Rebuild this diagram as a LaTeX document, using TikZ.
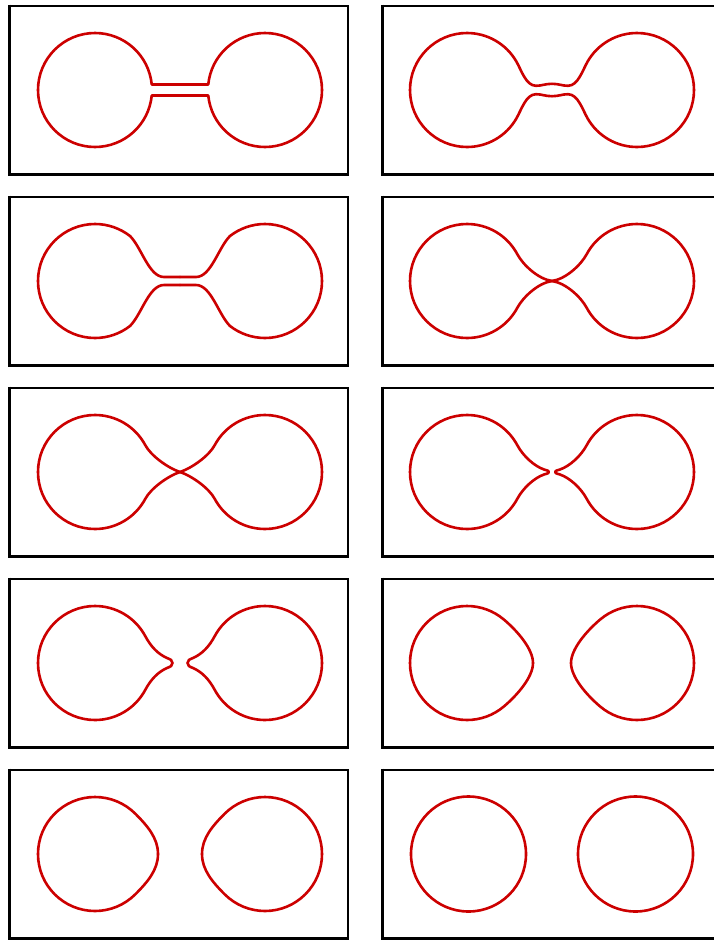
\documentclass[tikz,border=0pt]{standalone}
\definecolor{cred}{RGB}{204,0,0}
\tikzset{
  lobe/.style={draw=cred,line width=2.6pt,line cap=round,line join=round},
  thinedge/.style={draw=black,line width=1.8pt},
  thickedge/.style={draw=black,line width=3pt},
}
\newcommand\fourway[1]{%
  \foreach \sx/\sy in {1/1,-1/1,1/-1,-1/-1}{%
    \begin{scope}[xscale=\sx,yscale=\sy]\draw[lobe] #1;\end{scope}}}
\newcommand\panelframe[2]{%
  \draw[thinedge] (#1,84.2) -- (#2,84.2) -- (#2,-84.2);
  \draw[thickedge] (#1,85.5) -- (#1,-84.2) -- (#2+1,-84.2);}
\begin{document}
\begin{tikzpicture}[x=1pt,y=1pt]
\useasboundingbox (0,0) rectangle (714,-940);
\clip (0,0) rectangle (714,-940);
% row 1 left
\begin{scope}[shift={(180,-90)}]
  \panelframe{-170.2}{168.3}
  \fourway{(-142,0) arc[start angle=180,end angle=5.54,radius=57] -- (0,5.5)}
\end{scope}
% row 1 right
\begin{scope}[shift={(552,-90)}]
  \panelframe{-169.2}{200}
  \fourway{(-142,0) arc[start angle=180,end angle=30,radius=57] .. controls (-30.6,19.8) and (-26,4.2) .. (-16,4.2) .. controls (-10,4.2) and (-7,6.2) .. (0,6.2)}
\end{scope}
% row 2 left
\begin{scope}[shift={(180,-281)}]
  \panelframe{-170.2}{168.3}
  \fourway{(-142,0) arc[start angle=180,end angle=52,radius=57] .. controls (-38.3,33.2) and (-31,4) .. (-16,4) -- (0,4)}
\end{scope}
% row 2 right
\begin{scope}[shift={(552,-281)}]
  \panelframe{-169.2}{200}
  \fourway{(-142,0) arc[start angle=180,end angle=28,radius=57] .. controls (-29,16.2) and (-14,2) .. (0,0)}
\end{scope}
% row 3 left
\begin{scope}[shift={(180,-472)}]
  \panelframe{-170.2}{168.3}
  \fourway{(-142,0) arc[start angle=180,end angle=28,radius=57] .. controls (-29,16.2) and (-12,4) .. (0,0)}
\end{scope}
% row 3 right
\begin{scope}[shift={(552,-472)}]
  \panelframe{-169.2}{200}
  \fourway{(-142,0) arc[start angle=180,end angle=28,radius=57] .. controls (-29,16.2) and (-18,6) .. (-8,2.5) .. controls (-4.5,1.4) and (-3,1.2) .. (-3,0)}
\end{scope}
% row 4 left
\begin{scope}[shift={(180,-663)}]
  \panelframe{-170.2}{168.3}
  \fourway{(-142,0) arc[start angle=180,end angle=28,radius=57] .. controls (-29,16.2) and (-22,9) .. (-13,5) .. controls (-9.5,3.6) and (-7.5,2.8) .. (-7.5,0)}
\end{scope}
% row 4 right
\begin{scope}[shift={(552,-663)}]
  \panelframe{-169.2}{200}
  \fourway{(-142,0) arc[start angle=180,end angle=50,radius=57] .. controls (-34.6,32.1) and (-19,14) .. (-19,0)}
\end{scope}
% row 5 left
\begin{scope}[shift={(180,-854)}]
  \panelframe{-170.2}{168.3}
  \fourway{(-142,0) arc[start angle=180,end angle=45,radius=57] .. controls (-32.7,28.3) and (-22,16) .. (-22,0)}
\end{scope}
% row 5 right
\begin{scope}[shift={(552,-854)}]
  \panelframe{-169.2}{200}
  \draw[lobe] (-83.5,0) circle[radius=57.5];
  \draw[lobe] (83.5,0) circle[radius=57.5];
\end{scope}
\end{tikzpicture}
\end{document}
